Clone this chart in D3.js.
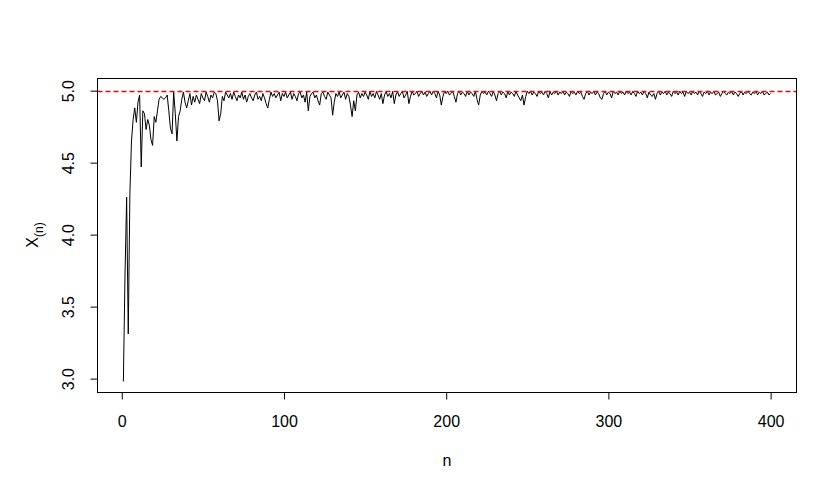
<!DOCTYPE html>
<html>
<head>
<meta charset="utf-8">
<script src="https://cdn.jsdelivr.net/npm/d3@7"></script>
<style>
  body { margin: 0; background: #fff; }
  text { font-family: "Liberation Sans", Arial, sans-serif; }
</style>
</head>
<body>
<div id="chart"></div>
<script>
// sample maxima X_(n), n = 1..400
var xn = [
  2.98, 3.72, 4.26, 3.31, 4.28, 4.65, 4.80, 4.88, 4.78, 4.92,
  4.97, 4.47, 4.86, 4.84, 4.73, 4.80, 4.76, 4.66, 4.62, 4.82,
  4.78, 4.86, 4.94, 4.96, 4.95, 4.94, 4.95, 4.97, 4.86, 4.74,
  4.70, 4.99, 4.84, 4.65, 4.82, 4.86, 4.94, 4.99, 4.92, 4.88,
  4.93, 4.98, 4.90, 4.96, 4.92, 4.97, 4.94, 4.91, 4.98, 4.95,
  4.93, 4.99, 4.96, 4.92, 4.97, 4.95, 4.99, 4.98, 4.93, 4.79,
  4.84, 4.96, 4.93, 4.99, 4.97, 4.95, 4.98, 4.94, 4.99, 4.96,
  4.93, 4.97, 4.95, 4.99, 4.94, 4.97, 4.92, 4.96, 4.98, 4.95,
  4.93, 4.97, 4.99, 4.94, 4.96, 4.93, 4.98, 4.95, 4.91, 4.88,
  4.94, 4.99, 4.96, 4.98, 4.95, 4.97, 4.99, 4.93, 4.98, 4.96,
  4.99, 4.95, 4.97, 4.99, 4.94, 4.98, 4.96, 4.93, 4.98, 4.99,
  4.95, 4.97, 4.92, 4.99, 4.86, 4.96, 4.98, 4.99, 4.95, 4.97,
  4.93, 4.90, 4.98, 4.99, 4.96, 4.94, 4.99, 4.97, 4.95, 4.83,
  4.92, 4.98, 4.96, 4.99, 4.95, 4.97, 4.99, 4.94, 4.98, 4.96,
  4.90, 4.82, 4.93, 4.86, 4.97, 4.99, 4.95, 4.98, 4.96, 4.99,
  4.97, 4.94, 4.995, 4.96, 4.98, 4.95, 4.995, 4.97, 4.94, 4.98,
  4.91, 4.97, 4.995, 4.96, 4.98, 4.95, 4.995, 4.91, 4.97, 4.995,
  4.96, 4.98, 4.995, 4.95, 4.97, 4.995, 4.91, 4.96, 4.995, 4.97,
  4.98, 4.996, 4.96, 4.98, 4.996, 4.97, 4.99, 4.96, 4.98, 4.996,
  4.97, 4.996, 4.98, 4.95, 4.996, 4.97, 4.90, 4.96, 4.996, 4.98,
  4.996, 4.97, 4.98, 4.996, 4.96, 4.92, 4.98, 4.996, 4.97, 4.99,
  4.98, 4.96, 4.996, 4.97, 4.99, 4.98, 4.96, 4.996, 4.94, 4.90,
  4.97, 4.996, 4.98, 4.99, 4.97, 4.996, 4.98, 4.96, 4.996, 4.97,
  4.93, 4.98, 4.996, 4.97, 4.99, 4.98, 4.95, 4.996, 4.97, 4.99,
  4.98, 4.96, 4.996, 4.97, 4.95, 4.93, 4.97, 4.90, 4.96, 4.996,
  4.98, 4.996, 4.97, 4.99, 4.98, 4.96, 4.996, 4.98, 4.99, 4.97,
  4.996, 4.98, 4.95, 4.996, 4.97, 4.99, 4.98, 4.996, 4.97, 4.99,
  4.98, 4.996, 4.97, 4.99, 4.98, 4.96, 4.996, 4.98, 4.99, 4.97,
  4.996, 4.98, 4.99, 4.96, 4.94, 4.98, 4.996, 4.97, 4.99, 4.98,
  4.996, 4.97, 4.99, 4.98, 4.95, 4.94, 4.98, 4.996, 4.97, 4.99,
  4.98, 4.95, 4.996, 4.98, 4.99, 4.97, 4.996, 4.98, 4.99, 4.97,
  4.996, 4.98, 4.99, 4.97, 4.996, 4.98, 4.96, 4.996, 4.98, 4.99,
  4.97, 4.996, 4.98, 4.95, 4.99, 4.97, 4.96, 4.98, 4.94, 4.98,
  4.996, 4.97, 4.99, 4.98, 4.996, 4.97, 4.99, 4.98, 4.96, 4.996,
  4.98, 4.99, 4.97, 4.996, 4.98, 4.99, 4.96, 4.996, 4.98, 4.99,
  4.97, 4.996, 4.98, 4.99, 4.97, 4.996, 4.98, 4.96, 4.99, 4.98,
  4.996, 4.97, 4.99, 4.98, 4.996, 4.97, 4.98, 4.99, 4.96, 4.98,
  4.996, 4.98, 4.97, 4.99, 4.98, 4.996, 4.97, 4.99, 4.98, 4.96,
  4.98, 4.996, 4.97, 4.99, 4.98, 4.996, 4.98, 4.97, 4.99, 4.98,
  4.996, 4.97, 4.99, 4.98, 4.996, 4.97, 4.98, 4.99, 4.97, 4.98
];
var xTicks = [0, 100, 200, 300, 400];
var yTicks = [3.0, 3.5, 4.0, 4.5, 5.0];
var yLim = [2.907, 5.088];
var refLine = 5;

var W = 836, H = 490;
var box = { left: 97.5, right: 796.5, top: 78, bottom: 392 };
var fontSize = "16px";

var svg = d3
  .select("#chart")
  .append("svg")
  .attr("width", W)
  .attr("height", H);

// R style 4% padding on x
var n = xn.map(function (d, i) { return i + 1; });
var xr = d3.extent(n);
var pad = (xr[1] - xr[0]) * 0.04;
var x = d3.scaleLinear().domain([xr[0] - pad, xr[1] + pad]).range([box.left, box.right]);
var y = d3.scaleLinear().domain(yLim).range([box.bottom, box.top]);

// the series
var line = d3.line()
  .x(function (d, i) { return x(i + 1); })
  .y(function (d) { return y(d); });

svg.append("path")
  .datum(xn)
  .attr("d", line)
  .attr("fill", "none")
  .attr("stroke", "#000")
  .attr("stroke-width", 1);

// dashed reference at 5
svg.append("path")
  .attr("d", "M" + box.left + "," + (Math.round(y(refLine)) + 0.5) + "H" + box.right)
  .attr("fill", "none")
  .style("stroke", "#ff0000")
  .style("stroke-width", "1.3px")
  .style("stroke-dasharray", "5,3");

// box
svg.append("rect")
  .attr("x", box.left)
  .attr("y", box.top + 0.5)
  .attr("width", box.right - box.left)
  .attr("height", box.bottom - box.top)
  .attr("fill", "none")
  .attr("stroke", "#000")
  .attr("stroke-width", 1);

// x axis
var xAxis = d3.axisBottom(x).tickValues(xTicks).tickSize(7).tickPadding(16).tickFormat(d3.format("d"));
var gx = svg.append("g")
  .attr("transform", "translate(0," + (box.bottom + 0.5) + ")")
  .call(xAxis);
gx.select(".domain")
  .attr("d", "M" + x(xTicks[0]) + ",0H" + x(xTicks[xTicks.length - 1]));
gx.selectAll("text").style("font-size", fontSize).attr("fill", "#000")
  .attr("font-family", "Liberation Sans, Arial, sans-serif");

// y axis, labels rotated like R
var yAxis = d3.axisLeft(y).tickValues(yTicks).tickSize(7).tickFormat(d3.format(".1f"));
var gy = svg.append("g")
  .attr("transform", "translate(" + (box.left) + ",0)")
  .call(yAxis);
gy.select(".domain")
  .attr("d", "M0," + y(yTicks[0]) + "V" + y(yTicks[yTicks.length - 1]));
gy.selectAll("text")
  .style("font-size", fontSize)
  .attr("fill", "#000")
  .attr("font-family", "Liberation Sans, Arial, sans-serif")
  .attr("text-anchor", "middle")
  .attr("x", null)
  .attr("dy", null)
  .attr("transform", "translate(-29,0) rotate(-90)")
  .attr("dominant-baseline", "central");

// axis titles
svg.append("text")
  .attr("x", (box.left + box.right) / 2)
  .attr("y", 466)
  .attr("text-anchor", "middle")
  .style("font-size", fontSize)
  .text("n");

var yl = svg.append("text")
  .attr("transform", "translate(38," + (box.top + box.bottom) / 2 + ") rotate(-90)")
  .attr("text-anchor", "middle")
  .style("font-size", fontSize);
yl.append("tspan").text("X");
yl.append("tspan").attr("dy", "5").style("font-size", "12px").text("(n)");
</script>
</body>
</html>
